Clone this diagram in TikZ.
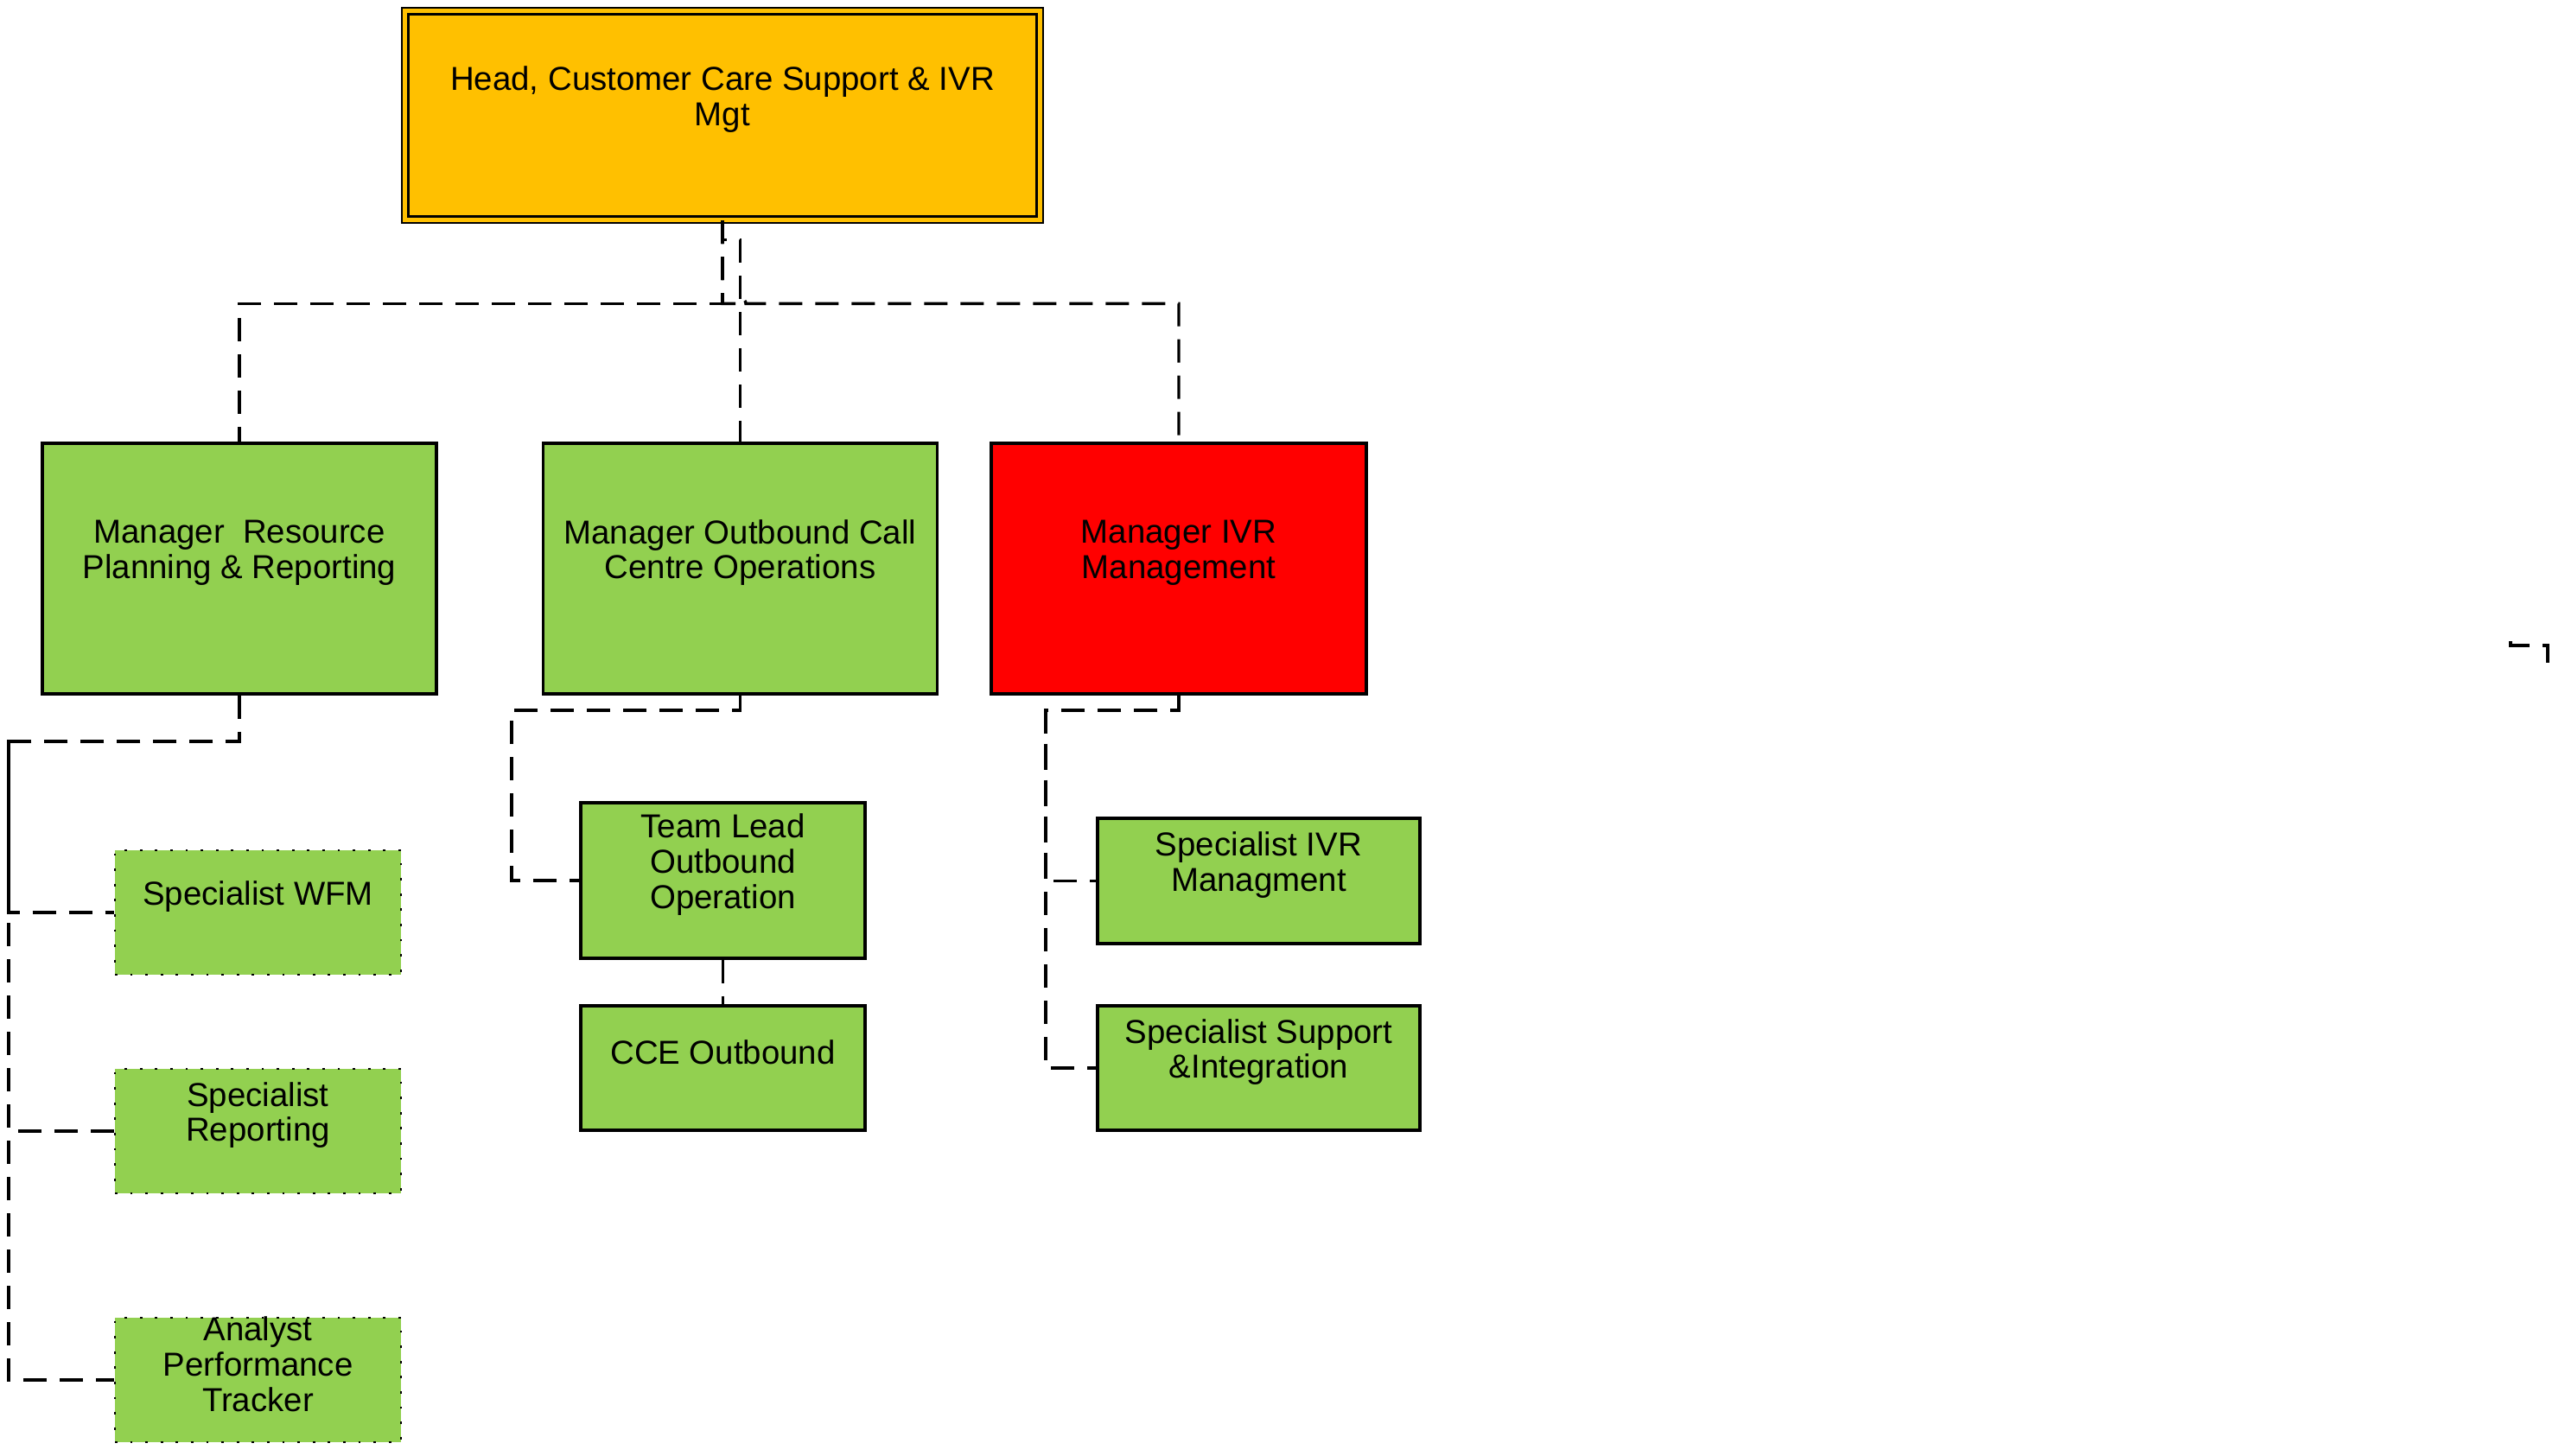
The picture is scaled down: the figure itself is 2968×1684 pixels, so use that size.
\documentclass[tikz,border=0pt]{standalone}
\usepackage{fontspec}
\setsansfont{Liberation Sans}
\definecolor{headorange}{HTML}{FFC000}
\definecolor{boxgreen}{HTML}{92D050}
\definecolor{boxred}{HTML}{FF0000}
\begin{document}
\begin{tikzpicture}[x=0.25pt, y=-0.25pt,
          font=\sffamily\fontsize{9.6}{10.2}\selectfont,
          txt/.style={align=center, inner sep=0pt, yshift=4.6pt},
          headbox/.style={draw, line width=0.6pt, double=headorange, double distance=1.2pt,
            fill=headorange, minimum width=183.6pt, minimum height=60.35pt, inner sep=0pt},
          mgr/.style={draw, line width=0.8pt, minimum height=72.5pt, inner sep=0pt},
          unit/.style={draw, line width=0.8pt, fill=boxgreen, inner sep=0pt},
          spec/.style={draw, line width=0.7pt, dash pattern=on 0.7pt off 3.7pt,
            fill=boxgreen, minimum width=82.75pt, minimum height=36pt, inner sep=0pt},
          link/.style={line width=0.85pt, dash pattern=on 6.75pt off 3.75pt}]
        \useasboundingbox (0,0) rectangle (2968,1684);
        % head
        \node[headbox, label={[txt]center:{Head, Customer Care Support \& IVR\\Mgt}}] (head) at (836,133.5) {};
        % managers
        \node[mgr, fill=boxgreen, minimum width=114pt,
          label={[txt]center:{Manager~ Resource\\Planning \& Reporting}}] (res) at (277,658) {};
        \node[mgr, fill=boxgreen, minimum width=114pt,
          label={[txt]center:{Manager Outbound Call\\Centre Operations}}] (out) at (856.5,658) {};
        \node[mgr, fill=boxred, minimum width=108.5pt,
          label={[txt]center:{Manager IVR\\Management}}] (ivr) at (1364,658) {};
        % resource planning team
        \node[spec, label={[txt]center:{Specialist WFM}}] (wfm) at (298.5,1056) {};
        \node[spec, label={[txt]center:{Specialist\\Reporting}}] (rep) at (298.5,1309) {};
        \node[spec, label={[txt]center:{Analyst\\Performance\\Tracker}}] (ana) at (298.5,1597) {};
        % outbound team
        \node[unit, minimum width=82.25pt, minimum height=45pt,
          label={[txt]center:{Team Lead\\Outbound\\Operation}}] (tl) at (836.5,1019) {};
        \node[unit, minimum width=82.25pt, minimum height=36pt,
          label={[txt]center:{CCE Outbound}}] (cce) at (836.5,1236) {};
        % IVR team
        \node[unit, minimum width=93.25pt, minimum height=36.25pt,
          label={[txt]center:{Specialist IVR\\Managment}}] (sivr) at (1456.5,1019.5) {};
        \node[unit, minimum width=93.25pt, minimum height=36pt,
          label={[txt]center:{Specialist Support\\\&Integration}}] (ssup) at (1456.5,1236) {};
        % bends
        \coordinate (rbus) at (10,858);
        \coordinate (obus) at (592,822);
        \coordinate (ibus) at (1210,822);
        \coordinate (m1) at (2905,742);
        \coordinate (m2) at (2948,767);
        % connectors
        \draw[link] (head.south) -- ++(0,22) -| (out.north);
        \draw[link] (head.south) -- ++(0,96) -| (res.north);
        \draw[link] (head.south) -- ++(0,96) -- ++(15,0)
          arc[start angle=180, end angle=0, radius=1.5pt] -| (ivr.north);
        \draw[link] (res.south) |- (rbus) |- (wfm.west);
        \draw[link] (rbus) |- (rep.west);
        \draw[link] (rbus) |- (ana.west);
        \draw[link] (out.south) |- (obus) |- (tl.west);
        \draw[link] (tl.south) -- (cce.north);
        \draw[link] (ivr.south) |- (ibus) |- (sivr.west);
        \draw[link] (ibus) |- (ssup.west);
        \draw[link] (m1) -- ++(0,5) -| (m2);
      \end{tikzpicture}
\end{document}
